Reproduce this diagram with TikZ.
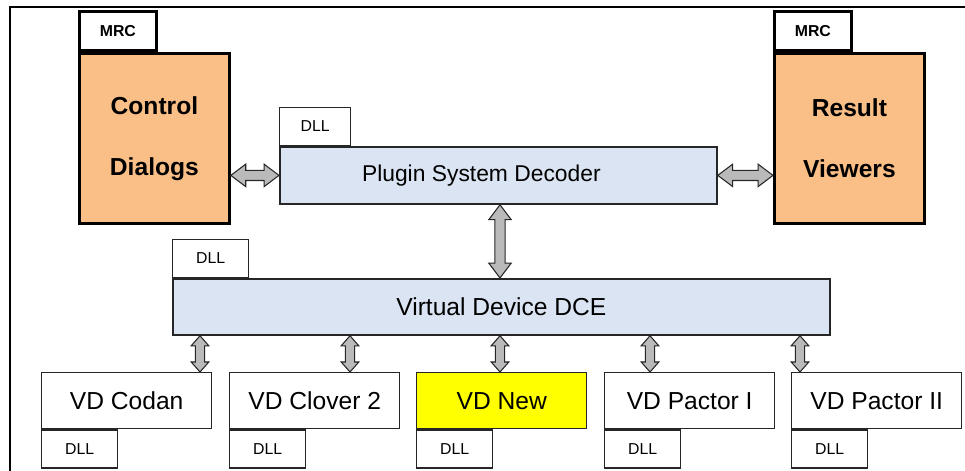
\documentclass[tikz,border=0pt]{standalone}
\usepackage{fontspec}
\setmainfont{Liberation Sans}
\usetikzlibrary{calc,positioning}
\definecolor{boxorange}{RGB}{250,191,135}
\definecolor{boxblue}{RGB}{219,228,242}
\definecolor{boxyellow}{RGB}{255,255,0}
\definecolor{arrowgray}{RGB}{186,186,186}
\tikzset{
    % orange frames with the MRC tab
    mrcbox/.style={
        draw=black, line width=1.6pt, fill=boxorange,
        minimum width=30mm, minimum height=34mm, inner sep=0pt,
        align=center, font=\bfseries\fontsize{14pt}{34.7pt}\selectfont
    },
    mrctab/.style={
        draw=black, line width=1.6pt, fill=white,
        minimum width=15.4mm, minimum height=7.8mm, inner sep=0pt,
        font=\bfseries\fontsize{9pt}{11pt}\selectfont
    },
    % light blue layers
    layerbox/.style={
        draw=black!85, line width=1pt, fill=boxblue,
        minimum height=11.2mm, inner sep=0pt,
        font=\fontsize{14pt}{16pt}\selectfont
    },
    dlltab/.style={
        draw=black!85, line width=0.8pt, fill=white,
        minimum width=15.2mm, minimum height=7.6mm, inner sep=0pt,
        font=\fontsize{9pt}{11pt}\selectfont
    },
    vdbox/.style={
        draw=black!85, line width=0.8pt, fill=white,
        minimum width=34mm, minimum height=11.2mm, inner sep=0pt,
        font=\fontsize{14pt}{16pt}\selectfont
    },
    % block arrows: head length / shaft half width / head half width
    blockarrow/.style n args={3}{
        draw=black!85, fill=arrowgray, line width=0.6pt,
        to path={
            -- ($(\tikztostart)!#1!(\tikztotarget)!#3!90:(\tikztotarget)$)
            -- ($(\tikztostart)!#1!(\tikztotarget)!#2!90:(\tikztotarget)$)
            -- ($(\tikztotarget)!#1!(\tikztostart)!#2!-90:(\tikztostart)$)
            -- ($(\tikztotarget)!#1!(\tikztostart)!#3!-90:(\tikztostart)$)
            -- (\tikztotarget)
            -- ($(\tikztotarget)!#1!(\tikztostart)!#3!90:(\tikztostart)$)
            -- ($(\tikztotarget)!#1!(\tikztostart)!#2!90:(\tikztostart)$)
            -- ($(\tikztostart)!#1!(\tikztotarget)!#2!-90:(\tikztotarget)$)
            -- ($(\tikztostart)!#1!(\tikztotarget)!#3!-90:(\tikztotarget)$)
            -- cycle}
    },
    bigarrow/.style={blockarrow={8.5pt}{2.9pt}{6.4pt}},
    smallarrow/.style={blockarrow={5.7pt}{2.6pt}{5pt}}
}
\begin{document}
\begin{tikzpicture}[x=0.2mm,y=-0.2mm]
    \useasboundingbox (0,0) rectangle (965,471);
    \draw[line width=1.4pt] (10,471) -- (10,7) -- (965,7);

    \node[mrcbox, anchor=north west] (ctrl) at (78,52) {Control\\Dialogs};
    \node[mrctab, anchor=south west] (ctrlmrc) at (ctrl.north west) {MRC};
    \node[mrcbox, anchor=north west] (result) at (773,52) {Result\\Viewers};
    \node[mrctab, anchor=south west] (resultmrc) at (result.north west) {MRC};

    \node[layerbox, minimum width=87.4mm, minimum height=11.4mm, font=\fontsize{13pt}{15pt}\selectfont, anchor=north west] (plugin) at (279,146) {\hspace*{-6.8mm}Plugin System Decoder};
    \node[dlltab, minimum width=14.2mm, anchor=south west] (plugindll) at (plugin.north west) {DLL};
    \node[layerbox, minimum width=131.4mm, anchor=north west] (vdce) at (172,278) {Virtual Device DCE};
    \node[dlltab, minimum width=15.2mm, anchor=south west] (vdcedll) at (vdce.north west) {DLL};

    \node[vdbox, anchor=north west] (codan) at (41,372) {VD Codan};
    \node[vdbox, anchor=north west] (clover) at (229,372) {VD Clover 2};
    \node[vdbox, fill=boxyellow, anchor=north west] (new) at (416,372) {VD New};
    \node[vdbox, anchor=north west] (pactorA) at (604,372) {VD Pactor I};
    \node[vdbox, anchor=north west] (pactorB) at (791,372) {VD Pactor II};
    \node[dlltab, anchor=north west] (codandll) at (codan.south west) {DLL};
    \node[dlltab, anchor=north west] (cloverdll) at (clover.south west) {DLL};
    \node[dlltab, anchor=north west] (newdll) at (new.south west) {DLL};
    \node[dlltab, anchor=north west] (pactorAdll) at (pactorA.south west) {DLL};
    \node[dlltab, anchor=north west] (pactorBdll) at (pactorB.south west) {DLL};

    \coordinate (c1) at (200,0);
    \coordinate (c2) at (350,0);
    \coordinate (c3) at (500,0);
    \coordinate (c4) at (650,0);
    \coordinate (c5) at (800,0);

    \draw[bigarrow] (ctrl.east |- plugin.west) to (plugin.west);
    \draw[bigarrow] (plugin.east) to (result.west |- plugin.east);
    \draw[bigarrow] (plugin.south -| c3) to (vdce.north -| c3);

    \draw[smallarrow] (vdce.south -| c1) to (codan.north -| c1);
    \draw[smallarrow] (vdce.south -| c2) to (clover.north -| c2);
    \draw[smallarrow] (vdce.south -| c3) to (new.north -| c3);
    \draw[smallarrow] (vdce.south -| c4) to (pactorA.north -| c4);
    \draw[smallarrow] (vdce.south -| c5) to (pactorB.north -| c5);
\end{tikzpicture}
\end{document}
